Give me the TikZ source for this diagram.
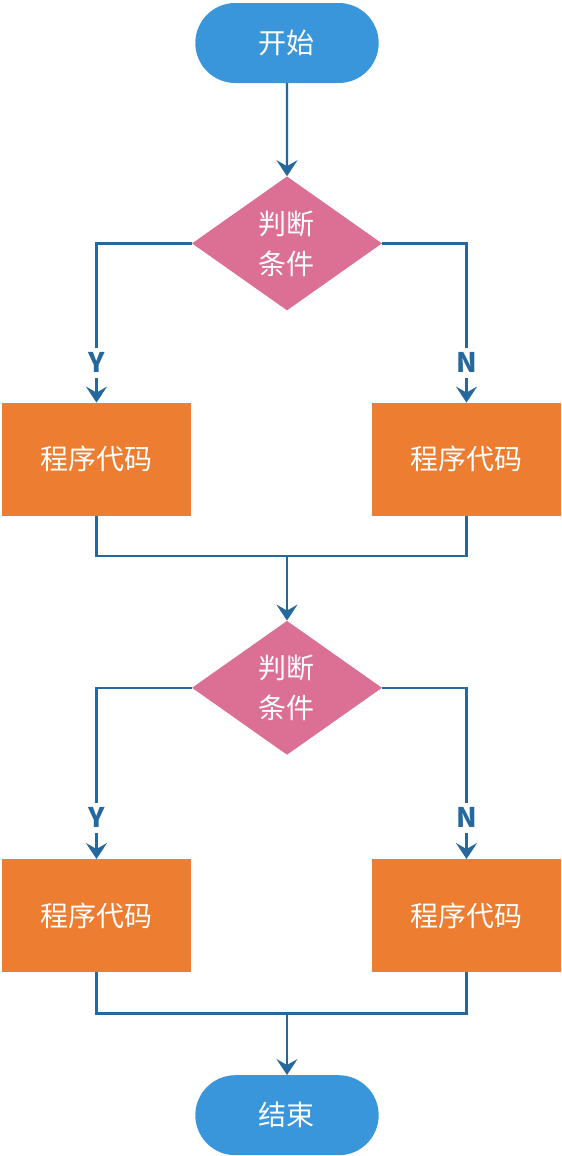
\documentclass[tikz,border=0pt]{standalone}
\usepackage{fontspec}
\setmainfont{Noto Sans CJK SC}
\usepackage{xcolor}
\usepackage{tikz}
\usetikzlibrary{positioning, shapes.geometric, shapes.misc, arrows.meta}
\definecolor{termblue}{RGB}{58,150,219}
\definecolor{condpink}{RGB}{220,112,148}
\definecolor{codeorange}{RGB}{237,125,49}
\definecolor{lineblue}{RGB}{36,104,158}
\tikzset{
    terminal/.style={
        rounded rectangle, fill = termblue,
        minimum width = 190bp,
        minimum height = 80bp,
        text = white,
        font = \fontsize{28bp}{32bp}\selectfont
    },
    decision/.style={
        diamond, fill = condpink,
        minimum width = 190bp,
        minimum height = 134bp,
        inner sep = 0pt,
        align = center, text = white,
        font = \fontsize{28bp}{40bp}\selectfont
    },
    process/.style={
        rectangle, fill = codeorange,
        minimum width = 189bp,
        minimum height = 113bp,
        text = white,
        font = \fontsize{28bp}{32bp}\selectfont
    },
    yn/.style = {fill = white, text = lineblue, inner xsep = 2bp, inner ysep = 5bp,
        font = \bfseries\fontsize{27bp}{27bp}\selectfont},
    flow/.style = {draw = lineblue, line width = 2.2bp},
    line/.style = {flow, -{Stealth[length=16bp 0, width=21bp 0, inset=6bp 0]}}
}
\begin{document}
\begin{tikzpicture}[x=1bp, y=1bp]
    \useasboundingbox (-287,43) rectangle (275,-1113);

    % Start and first condition
    \node[terminal] (start) at (0,0) {开始};
    \node[decision, below = 93bp of start] (cond1) {判断\\条件};

    % Blocks
    \node[process, below = 92bp of cond1, xshift = -190.5bp] (codeL1) {程序代码};
    \node[process, below = 92bp of cond1, xshift = 179.5bp] (codeR1) {程序代码};
    \coordinate[below = 40bp of codeL1] (joinL1);

    % Second condition
    \node[decision, below = 310bp of cond1] (cond2) {判断\\条件};
    \node[process, below = 104bp of cond2, xshift = -190.5bp] (codeL2) {程序代码};
    \node[process, below = 104bp of cond2, xshift = 179.5bp] (codeR2) {程序代码};
    \coordinate[below = 41bp of codeL2] (joinL2);

    % End
    \node[terminal, below = 320bp of cond2] (finish) {结束};

    % Lines
    \draw[line] (start) -- (cond1);
    \draw[line] (cond1.west) -| node[yn, pos=0.875] (yes1) {Y} (codeL1.north);
    \draw[line] (cond1.east) -| node[yn, pos=0.875] (no1) {N} (codeR1.north);
    \draw[flow] (codeL1.south) -- (joinL1) -| (codeR1.south);
    \draw[line] (joinL1 -| cond2) -- (cond2.north);

    \draw[line] (cond2.west) -| node[yn, pos=0.88] (yes2) {Y} (codeL2.north);
    \draw[line] (cond2.east) -| node[yn, pos=0.88] (no2) {N} (codeR2.north);
    \draw[flow] (codeL2.south) -- (joinL2) -| (codeR2.south);
    \draw[line] (joinL2 -| finish) -- (finish.north);

\end{tikzpicture}
\end{document}
